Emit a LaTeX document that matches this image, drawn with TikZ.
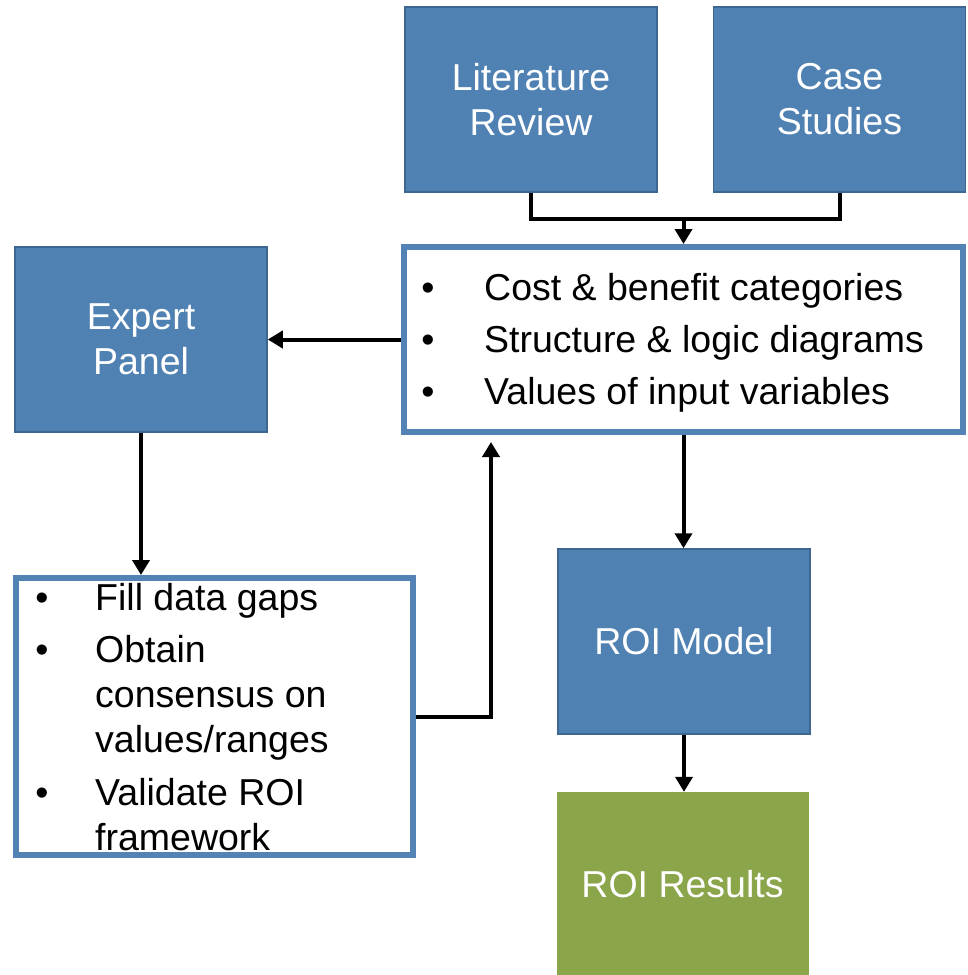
\documentclass[tikz,border=0pt]{standalone}
\usepackage{fontspec}
\setmainfont{Liberation Sans}
\usetikzlibrary{arrows.meta}
\definecolor{boxblue}{HTML}{4F81B3}
\definecolor{boxedge}{HTML}{3D6792}
\definecolor{listedge}{HTML}{5283B4}
\definecolor{resgreen}{HTML}{8AA54A}
\begin{document}
\begin{tikzpicture}[x=1pt,y=-1pt,
  every node/.style={font=\fontsize{37.5}{45}\selectfont, inner sep=0pt},
  bluebox/.style={draw=boxedge, line width=1.5pt, fill=boxblue, text=white,
    align=center, minimum width=252pt, minimum height=185pt},
  greenbox/.style={fill=resgreen, text=white, align=center,
    minimum width=252pt, minimum height=185pt},
  listbox/.style={draw=listedge, line width=6pt, fill=white},
  itemtext/.style={anchor=base west, text=black},
  bulletmark/.style={anchor=base, text=black},
  link/.style={line width=4pt, black},
  arrow/.style={link, -{Triangle[width=17pt,length=15pt]}}]

\useasboundingbox (0,0) rectangle (967,975);

% source boxes
\node[bluebox] (lit)  at (531,99.5)  {Literature\\Review};
\node[bluebox] (case) at (839.5,99.5) {Case\\Studies};

% central list of findings
\node[listbox, minimum width=559pt, minimum height=185pt] (clist) at (683.5,339.5) {};
\node[bulletmark] (cb1) at (428,300) {•};
\node[itemtext]   (ct1) at (484,300) {Cost \& benefit categories};
\node[bulletmark] (cb2) at (428,352) {•};
\node[itemtext]   (ct2) at (484,352) {Structure \& logic diagrams};
\node[bulletmark] (cb3) at (428,404) {•};
\node[itemtext]   (ct3) at (484,404) {Values of input variables};

% expert panel and its tasks
\node[bluebox] (expert) at (141,339.5) {Expert\\Panel};
\node[listbox, minimum width=397pt, minimum height=277pt] (blist) at (214.5,716.5) {};
\node[bulletmark] (bb1)  at (42,610) {•};
\node[itemtext]   (bt1)  at (95,610) {Fill data gaps};
\node[bulletmark] (bb2)  at (42,662) {•};
\node[itemtext]   (bt2a) at (95,662) {Obtain};
\node[itemtext]   (bt2b) at (95,707) {consensus on};
\node[itemtext]   (bt2c) at (95,752) {values/ranges};
\node[bulletmark] (bb3)  at (42,805) {•};
\node[itemtext]   (bt3a) at (95,805) {Validate ROI};
\node[itemtext]   (bt3b) at (95,850) {framework};

% model and results
\node[bluebox]  (model)   at (684,641.5) {ROI Model};
\node[greenbox] (results) at (682.5,884.5) {ROI Results};

% connectors
\coordinate (join)  at (683.5,219);
\coordinate (fbtip) at (491,442);
\draw[link] (lit.south) |- (join) -| (case.south);
\draw[arrow] (join) -- (clist.north);
\draw[arrow] (clist.west) -- (expert.east);
\draw[arrow] (expert.south) -- (expert.south |- blist.north);
\draw[arrow] (blist.east) -| (fbtip);
\draw[arrow] (clist.south) -- (clist.south |- model.north);
\draw[arrow] (model.south) -- (model.south |- results.north);
\end{tikzpicture}
\end{document}
